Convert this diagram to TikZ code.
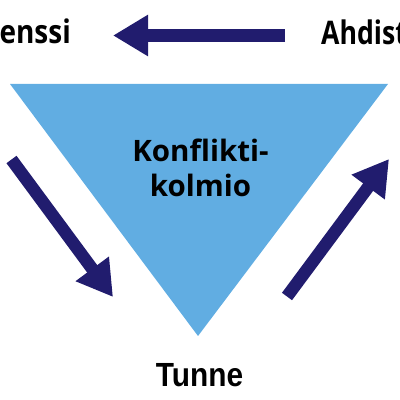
\documentclass[tikz,border=0pt]{standalone}
\usepackage{fontspec}
\setmainfont{Open Sans}
\newfontfamily\arialfont{Liberation Sans}
\usetikzlibrary{arrows.meta}
\definecolor{triblue}{HTML}{61ADE2}
\definecolor{navy}{HTML}{211C6E}
\begin{document}
\begin{tikzpicture}[x=1pt,y=1pt,
  fatarrow/.style={draw=navy,line width=12.5pt,-{Triangle[width=39pt,length=35pt,fill=navy]}},
  toplabel/.style={inner sep=0pt,font=\fontsize{32.5}{38}\selectfont\bfseries},
  mid/.style={inner sep=0pt,font=\fontsize{29.5}{35}\selectfont\bfseries,align=center},
  bottomlabel/.style={inner sep=0pt,font=\arialfont\fontsize{33.5}{38}\selectfont\bfseries}]
\useasboundingbox (0,0) rectangle (400,400);
\clip (0,0) rectangle (400,400);
\fill[triblue] (10,316) coordinate (tl) -- (388,316) coordinate (tr) -- (198,64) coordinate (bt) -- cycle;
\node[toplabel,anchor=base east] (def) at (71,356) {\scalebox{0.86}[1]{enssi}};
\node[toplabel,anchor=base west] (ahd) at (321,355.5) {\scalebox{0.82}[1]{Ahdist}};
\node[mid,anchor=base] (k1) at (200.5,238) {Konflikti-};
\node[mid,anchor=base] (k2) at (200.5,203) {kolmio};
\node[bottomlabel,anchor=base] (tun) at (199.5,13) {\scalebox{0.89}[1]{Tunne}};
\coordinate (a1s) at (285,364.5);
\coordinate (a1e) at (113,364.5);
\coordinate (a2s) at (11.5,240.5);
\coordinate (a2e) at (113,103);
\coordinate (a3s) at (287,103.5);
\coordinate (a3e) at (389,241);
\draw[fatarrow] (a1s) -- (a1e);
\draw[fatarrow] (a2s) -- (a2e);
\draw[fatarrow] (a3s) -- (a3e);
\end{tikzpicture}
\end{document}
